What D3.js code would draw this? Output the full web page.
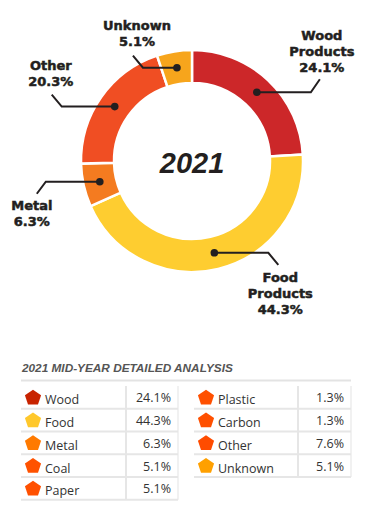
<!DOCTYPE html>
<html>
<head>
<meta charset="utf-8">
<script src="https://cdn.jsdelivr.net/npm/d3@7"></script>
<style>
  body { margin: 0; background: #fff; }
  svg { display: block; }
  .lbl { font-family: "DejaVu Sans", sans-serif; font-weight: bold; font-size: 13px; fill: #231f20; stroke: #231f20; stroke-width: 0.5px; }
  .cell { font-family: "Open Sans", sans-serif; font-size: 12.5px; fill: #333; }
</style>
</head>
<body>
<div id="chart"></div>
<script>
// donut data
var donutNames = ["Wood Products", "Food Products", "Metal", "Other", "Unknown"];
var donutValues = [24.1, 44.3, 6.3, 20.3, 5.1];
var donutColors = ["#cc2729", "#fecd30", "#f47b20", "#f04e23", "#f7a51c"];

// table data
var tableNames = ["Wood", "Food", "Metal", "Coal", "Paper", "Plastic", "Carbon", "Other", "Unknown"];
var tableValues = [24.1, 44.3, 6.3, 5.1, 5.1, 1.3, 1.3, 7.6, 5.1];
var tableColors = ["#c82300", "#ffc82c", "#ff7a00", "#ff5200", "#ff5000", "#ff5000", "#ff5000", "#ff4c00", "#ffa000"];

var W = 370, H = 519;
var svg = d3.select("#chart").append("svg").attr("width", W).attr("height", H);

var cx = 192, cy = 161, rOut = 111, rIn = 78;
var g = svg.append("g").attr("transform", "translate(" + cx + "," + cy + ")");

var pie = d3.pie().sort(null).value(d => d);
var arc = d3.arc().innerRadius(rIn).outerRadius(rOut);
var arcs = pie(donutValues);

g.selectAll("path.slice").data(arcs).enter().append("path")
  .attr("class", "slice")
  .attr("d", arc)
  .attr("fill", (d, i) => donutColors[i])
  .attr("stroke", "#fff")
  .attr("stroke-width", 2.5);

// leader lines: horizontal run, then a short diagonal kink
var leader = [
  {h: 54, dx: 9, dy: -13, lines: ["Wood", "Products", "24.1%"], lx: 2, ly: -39},
  {h: 54, dx: 10, dy: 12, lines: ["Food", "Products", "44.3%"], lx: 2, ly: 17},
  {h: -54, dx: -9, dy: 12, lines: ["Metal", "6.3%"], lx: -5, ly: 16},
  {h: -53, dx: -10, dy: -12, lines: ["Other", "20.3%"], lx: -1, ly: -25},
  {h: -34, dx: -10, dy: -12, lines: ["Unknown", "5.1%"], lx: 4, ly: -26}
];

arcs.forEach(function(a, i) {
  var c = arc.centroid(a);
  var L = leader[i];
  var x1 = c[0] + L.h, y1 = c[1];
  var x2 = x1 + L.dx, y2 = y1 + L.dy;
  g.append("path")
    .attr("d", d3.line()([[c[0], c[1]], [x1, y1], [x2, y2]]))
    .attr("fill", "none").attr("stroke", "#231f20").attr("stroke-width", 2);
  g.append("circle").attr("cx", c[0]).attr("cy", c[1]).attr("r", 3.8).attr("fill", "#231f20");
  var t = g.append("text").attr("class", "lbl").attr("text-anchor", "middle");
  L.lines.forEach(function(s, k) {
    t.append("tspan").attr("x", x2 + L.lx).attr("y", y2 + L.ly + k * 16).text(s);
  });
});

g.append("text")
  .attr("x", 0).attr("y", 12)
  .attr("text-anchor", "middle")
  .style("font-family", "'Liberation Sans', Arial, sans-serif")
  .style("font-weight", "bold").style("font-style", "italic")
  .style("font-size", "29px").attr("fill", "#231f20")
  .text("2021");

// table
svg.append("text")
  .attr("x", 22).attr("y", 372)
  .style("font-family", "'Liberation Sans', Arial, sans-serif")
  .style("font-weight", "bold").style("font-style", "italic")
  .style("font-size", "11.8px").attr("fill", "#555")
  .text("2021 MID-YEAR DETAILED ANALYSIS");
svg.append("line").attr("x1", 21).attr("x2", 351).attr("y1", 380.5).attr("y2", 380.5)
  .attr("stroke", "#e3e3e3").attr("stroke-width", 2);

var rowH = 22.75, tableTop = 386;
var cols = [
  {x0: 21, x1: 178, div: 126, start: 0, n: 5},
  {x0: 194, x1: 351, div: 298, start: 5, n: 4}
];

function pentagon(r) {
  var pts = d3.range(5).map(function(k) {
    var a = -Math.PI / 2 + k * 2 * Math.PI / 5;
    return [r * Math.cos(a), r * Math.sin(a) * 0.97];
  });
  return d3.line()(pts) + "Z";
}

cols.forEach(function(col) {
  var y = d3.scaleLinear().domain([0, col.n]).range([tableTop, tableTop + col.n * rowH]);
  var rows = d3.range(col.start, col.start + col.n);
  // vertical lines
  svg.append("line").attr("x1", col.div).attr("x2", col.div).attr("y1", y(0)).attr("y2", y(col.n))
    .attr("stroke", "#e6e6e6").attr("stroke-width", 2);
  svg.append("line").attr("x1", col.x1).attr("x2", col.x1).attr("y1", y(0)).attr("y2", y(col.n))
    .attr("stroke", "#ececec").attr("stroke-width", 1.5);
  rows.forEach(function(idx, k) {
    svg.append("line").attr("x1", col.x0).attr("x2", col.x1)
      .attr("y1", y(k + 1)).attr("y2", y(k + 1))
      .attr("stroke", "#e6e6e6").attr("stroke-width", 2);
    var mid = (y(k) + y(k + 1)) / 2;
    svg.append("path").attr("d", pentagon(8.5))
      .attr("transform", "translate(" + (col.x0 + 12) + "," + (mid + 0.5) + ")")
      .attr("fill", tableColors[idx]);
    svg.append("text").attr("class", "cell")
      .attr("x", col.x0 + 24).attr("y", mid + 7)
      .text(tableNames[idx]);
    svg.append("text").attr("class", "cell")
      .attr("x", col.x1 - 7).attr("y", mid + 5)
      .attr("text-anchor", "end")
      .text(tableValues[idx].toFixed(1) + "%");
  });
});
</script>
</body>
</html>
